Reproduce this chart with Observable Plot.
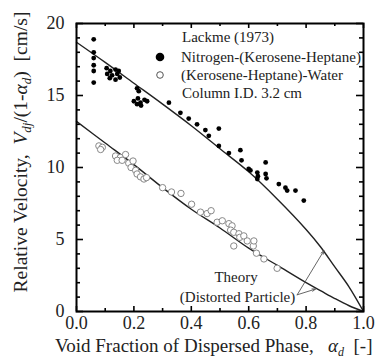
<!DOCTYPE html>
<html>
<head>
<meta charset="utf-8">
<script src="https://cdn.jsdelivr.net/npm/d3@7"></script>
<script src="https://cdn.jsdelivr.net/npm/@observablehq/plot@0.6"></script>
<style>
  html, body { margin: 0; padding: 0; background: #fff; }
  #chart { width: 388px; height: 364px; }
</style>
</head>
<body>
<div id="chart"></div>
<script>
// ---- Data ----
// Nitrogen-(Kerosene-Heptane): void fraction, relative velocity [cm/s]
const nitrogenAlpha = [0.06,0.06,0.06,0.06,0.06,0.06,0.105,0.118,0.136,0.147,0.107,0.124,0.142,0.151,0.116,0.136,
  0.211,0.217,0.20,0.214,0.223,0.237,0.225,0.211,0.246,0.322,0.362,0.391,0.42,0.449,0.461,0.496,0.496,0.531,0.571,0.575,
  0.60,0.606,0.63,0.632,0.659,0.659,0.662,0.63,0.705,0.728,0.734,0.763,0.792];
const nitrogenVr = [18.9,18.0,17.6,17.1,16.7,15.9,16.9,16.7,16.8,16.7,16.5,16.4,16.5,16.25,16.2,16.1,
  15.5,15.3,14.6,14.8,14.5,14.7,14.3,14.4,14.6,14.5,13.8,13.4,13.0,12.6,12.2,12.7,11.5,11.0,11.2,10.5,
  9.9,9.8,9.65,9.4,10.35,9.55,9.25,9.2,8.85,8.6,8.4,8.4,7.7];
// (Kerosene-Heptane)-Water
const keroAlpha = [0.078,0.09,0.084,0.136,0.153,0.171,0.142,0.159,0.182,0.197,0.19,0.206,0.211,0.223,0.235,0.244,
  0.30,0.331,0.364,0.401,0.432,0.455,0.469,0.49,0.508,0.531,0.542,0.537,0.548,0.566,0.569,0.583,0.595,0.616,0.548,
  0.618,0.627,0.653,0.699];
const keroVr = [11.5,11.4,11.25,10.8,10.7,10.9,10.5,10.5,10.3,10.45,10.0,9.8,9.55,9.35,9.2,9.3,
  8.6,8.3,8.2,7.45,6.9,6.8,7.0,6.2,6.3,6.1,5.95,5.65,5.5,5.4,5.15,5.25,4.9,4.55,4.55,
  4.9,4.05,3.65,3.0];
// Theory (distorted particle) curves
const theoryAlpha = [0,0.1,0.2,0.3,0.4,0.5,0.6,0.7,0.8,0.85,0.9,0.95,1.0];
const theoryUpper = [18.7,17.3,15.85,14.4,12.9,11.3,9.7,7.8,5.7,4.5,3.1,1.7,0];
const theoryLower = [13.2,11.7,10.2,8.6,7.1,5.8,4.4,3.2,2.0,1.45,0.9,0.4,0];
// Axis ticks
const xTicks = [0,0.2,0.4,0.6,0.8,1.0];
const xMinor = [0.1,0.3,0.5,0.7,0.9];
const yTicks = [0,5,10,15,20];
const yMinor = [1,2,3,4,6,7,8,9,11,12,13,14,16,17,18,19];
// Legend / annotation texts
const legendTitle = "Lackme (1973)";
const seriesNames = ["Nitrogen-(Kerosene-Heptane)", "(Kerosene-Heptane)-Water"];
const legendNote = "Column I.D. 3.2 cm";
const annoLabels = ["Theory", "(Distorted Particle)"];
const annoLabelAlpha = [0.556, 0.561];
const annoLabelVr = [2.36, 0.97];
const arrowStart = [0.769, 1.16];
const arrowEndAlpha = [0.862, 0.833];
const arrowEndVr = [4.22, 1.56];

// ---- Build tables ----
const nitrogen = nitrogenAlpha.map((a, i) => ({a, v: nitrogenVr[i]}));
const kero = keroAlpha.map((a, i) => ({a, v: keroVr[i]}));
const upper = theoryAlpha.map((a, i) => ({a, v: theoryUpper[i]}));
const lower = theoryAlpha.map((a, i) => ({a, v: theoryLower[i]}));
const annoText = annoLabels.map((t, i) => ({t, a: annoLabelAlpha[i], v: annoLabelVr[i]}));
const arrows = arrowEndAlpha.map((a, i) => ({x1: arrowStart[0], y1: arrowStart[1], x2: a, y2: arrowEndVr[i]}));

const FONT = "Liberation Serif, Times New Roman, serif";
const TXT = "#222";

// plot geometry (pixels) used to express tick lengths
const W = 388, H = 364, ML = 76, MR = 25, MT = 23, MB = 53;
const pxX = 1 / (W - ML - MR);      // x-units per pixel
const pxY = 20 / (H - MT - MB);     // y-units per pixel
const tick = (d, len, side) => ({d, len, side});
const xTickRows = [
  ...xTicks.map(d => tick(d, 5, "b")), ...xMinor.map(d => tick(d, 3, "b")),
  ...xTicks.map(d => tick(d, 5, "t")), ...xMinor.map(d => tick(d, 3, "t"))
];
const yTickRows = [
  ...yTicks.map(d => tick(d, 7, "l")), ...yMinor.map(d => tick(d, 4, "l")),
  ...yTicks.map(d => tick(d, 7, "r")), ...yMinor.map(d => tick(d, 4, "r"))
];

const chart = Plot.plot({
  width: W,
  height: H,
  marginLeft: ML,
  marginRight: MR,
  marginTop: MT,
  marginBottom: MB,
  style: `font-family: ${FONT}; color: ${TXT}; background: white;`,
  x: {domain: [0, 1]},
  y: {domain: [0, 20]},
  marks: [
    // inward ticks on all four sides
    Plot.ruleX(xTickRows, {x: "d", y1: r => r.side === "b" ? 0 : 20, y2: r => r.side === "b" ? r.len * pxY : 20 - r.len * pxY, stroke: "black", strokeWidth: 1.6}),
    Plot.ruleY(yTickRows, {y: "d", x1: r => r.side === "l" ? 0 : 1, x2: r => r.side === "l" ? r.len * pxX : 1 - r.len * pxX, stroke: "black", strokeWidth: 1.6}),
    // tick labels
    Plot.axisX({anchor: "bottom", ticks: xTicks, tickSize: 0, tickPadding: 5, tickFormat: d3.format(".1f"), label: null, fontSize: 18, fontFamily: FONT, fill: TXT}),
    Plot.axisY({anchor: "left", ticks: yTicks, tickSize: 0, tickPadding: 12, label: null, fontSize: 18, fontFamily: FONT, fill: TXT}),
    // theory curves
    Plot.line(upper, {x: "a", y: "v", curve: "catmull-rom", stroke: "#222", strokeWidth: 1.4}),
    Plot.line(lower, {x: "a", y: "v", curve: "catmull-rom", stroke: "#222", strokeWidth: 1.4}),
    // data
    Plot.dot(kero, {x: "a", y: "v", r: 3.2, stroke: "#888", strokeWidth: 1, fill: "white"}),
    Plot.dot(nitrogen, {x: "a", y: "v", r: 2.4, fill: "black", stroke: "none"}),
    // annotation
    Plot.arrow(arrows, {x1: "x1", y1: "y1", x2: "x2", y2: "y2", stroke: "#555", strokeWidth: 0.9, headLength: 6, headAngle: 40}),
    Plot.text(annoText, {x: "a", y: "v", text: "t", fontSize: 15, fontFamily: FONT, fill: TXT}),
    Plot.frame({stroke: "black", strokeWidth: 2})
  ]
});
chart.setAttribute("font-family", FONT);
document.getElementById("chart").appendChild(chart);

// ---- Axis titles and legend (rich text with italics/subscripts) ----
const svg = d3.select(chart);
const yl = svg.append("text")
  .attr("transform", "translate(27,152) rotate(-90)")
  .attr("text-anchor", "middle")
  .attr("font-family", FONT)
  .attr("font-size", 19.5)
  .attr("fill", TXT);
yl.append("tspan").text("Relative Velocity,\u00a0\u00a0");
yl.append("tspan").attr("font-style", "italic").text("V");
yl.append("tspan").attr("font-style", "italic").attr("font-size", 13).attr("dy", 4).text("dj");
yl.append("tspan").attr("dy", -4).text("/(1-");
yl.append("tspan").attr("font-style", "italic").text("\u03b1");
yl.append("tspan").attr("font-style", "italic").attr("font-size", 13).attr("dy", 4).text("d");
yl.append("tspan").attr("dy", -4).text(")\u00a0\u00a0[cm/s]");

const xl = svg.append("text")
  .attr("x", 55).attr("y", 352)
  .attr("text-anchor", "start")
  .attr("font-family", FONT)
  .attr("font-size", 19)
  .attr("fill", TXT);
xl.append("tspan").text("Void Fraction of Dispersed Phase,\u00a0\u00a0\u00a0");
xl.append("tspan").attr("font-style", "italic").text("\u03b1");
xl.append("tspan").attr("font-style", "italic").attr("font-size", 12).attr("dy", 4).text("d");
xl.append("tspan").attr("dy", -4).text("\u00a0\u00a0[-]");

const lg = svg.append("g").attr("font-family", FONT).attr("font-size", 15).attr("fill", TXT).attr("text-anchor", "start");
lg.append("text").attr("x", 182).attr("y", 42).text(legendTitle);
lg.append("circle").attr("cx", 160).attr("cy", 57).attr("r", 4.3).attr("fill", "black");
lg.append("text").attr("x", 181).attr("y", 62).text(seriesNames[0]);
lg.append("circle").attr("cx", 160).attr("cy", 75).attr("r", 3.3).attr("fill", "white").attr("stroke", "#555").attr("stroke-width", 1);
lg.append("text").attr("x", 181).attr("y", 80).text(seriesNames[1]);
lg.append("text").attr("x", 182).attr("y", 98).text(legendNote);
</script>
</body>
</html>
